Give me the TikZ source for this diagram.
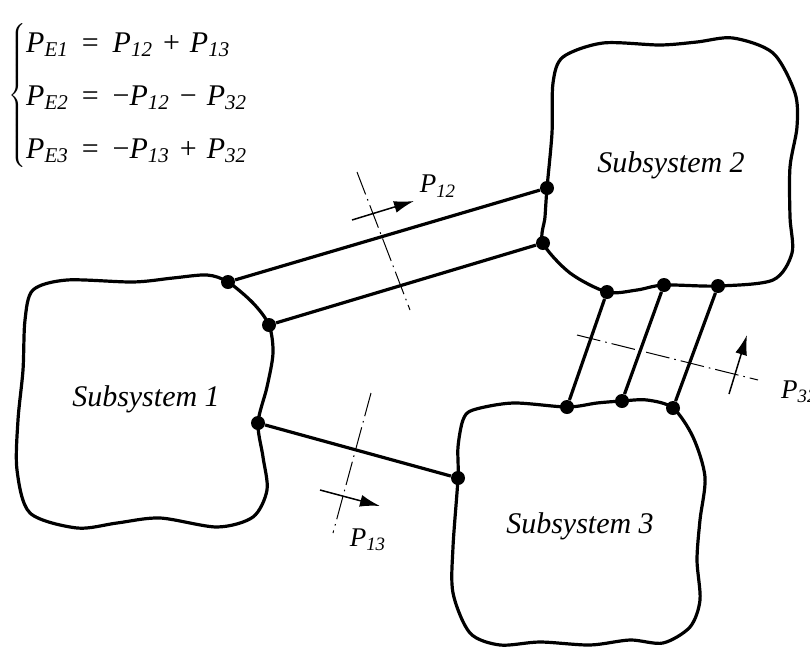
\documentclass[tikz,border=0pt]{standalone}
\usepackage{fontspec}
\setmainfont{Liberation Serif}
\usetikzlibrary{arrows.meta}
\newcommand\pw[1]{\textit{P}\textsubscript{\textit{#1}}}
\tikzset{
  blob/.style    ={line width=1.6pt, line join=round},
  joint/.style   ={circle, fill, inner sep=0pt, minimum size=7pt},
  link/.style    ={line width=1.6pt},
  cut/.style     ={line width=0.5pt, dash pattern=on 12pt off 2.5pt on 0.8pt off 2.5pt},
  flow/.style    ={-{Latex[length=10pt,width=6pt]}, line width=0.75pt},
  subname/.style ={font=\fontsize{15}{18}\selectfont\itshape},
  plabel/.style  ={font=\fontsize{13.5}{15}\selectfont},
}

\begin{document}
\begin{tikzpicture}[x=0.5pt, y=-0.5pt]
  \useasboundingbox (0,0) rectangle (810,649);

  % balance equations
  \node[anchor=west, inner sep=0pt, font=\fontsize{15}{26.5}\selectfont] (eqs) at (8,95)
    {\delimiterfactor=800 \delimitershortfall=12pt
     $\left\{\begin{tabular}{@{}l@{\hspace{6.5pt}}c@{\hspace{7pt}}l@{}}
      \pw{E1} & = & \pw{12}\hspace{5pt}+\hspace{5pt}\pw{13}\\
      \pw{E2} & = & −\pw{12}\hspace{5pt}−\hspace{5pt}\pw{32}\\
      \pw{E3} & = & −\pw{13}\hspace{5pt}+\hspace{5pt}\pw{32}
    \end{tabular}\right.$};

  % joints on the boundaries
  \node[joint] (s1a) at (228,282) {};
  \node[joint] (s1b) at (269,325) {};
  \node[joint] (s1c) at (258,423) {};
  \node[joint] (s2a) at (547,188) {};
  \node[joint] (s2b) at (543,243) {};
  \node[joint] (s2c) at (607,292) {};
  \node[joint] (s2d) at (664,285) {};
  \node[joint] (s2e) at (718,286) {};
  \node[joint] (s3a) at (567,407) {};
  \node[joint] (s3b) at (622,401) {};
  \node[joint] (s3c) at (673,408) {};
  \node[joint] (s3d) at (458,478) {};

  % subsystem outlines
  \draw[blob] plot[smooth cycle] coordinates {(33,290) (67,280) (133,282) (173,278) (207,275)
    (s1a.center) (253,303) (s1b.center) (273,353) (267,387) (s1c.center) (263,457) (267,490)
    (253,517) (217,527) (160,518) (117,523) (77,528) (30,513) (17,470) (18,420) (23,370) (25,320)};
  \draw[blob] plot[smooth cycle] coordinates {(563,57) (603,43) (660,45) (697,42) (733,38)
    (773,53) (795,93) (797,127) (790,167) (790,217) (792,253) (773,280) (s2e.center)
    (s2d.center) (637,290) (s2c.center) (570,273) (s2b.center) (545,217) (s2a.center)
    (552,133) (553,83)};
  \draw[blob] plot[smooth cycle] coordinates {(473,410) (513,403) (s3a.center) (597,403)
    (s3b.center) (647,400) (s3c.center) (693,437) (705,477) (700,520) (697,560) (700,600)
    (690,627) (663,643) (630,640) (590,645) (540,642) (500,645) (470,633) (453,593)
    (453,547) (s3d.center) (458,447) (463,420)};

  \node[subname] (sub1) at (146,399) {Subsystem 1};
  \node[subname] (sub2) at (671,165) {Subsystem 2};
  \node[subname] (sub3) at (580,526) {Subsystem 3};

  % couplings
  \draw[link] (s1a) -- (s2a);
  \draw[link] (s1b) -- (s2b);
  \draw[link] (s1c) -- (s3d);
  \draw[link] (s2c) -- (s3a);
  \draw[link] (s2d) -- (s3b);
  \draw[link] (s2e) -- (s3c);

  % cuts and power flows
  \coordinate (c12a) at (357,172);
  \coordinate (c12b) at (410,310);
  \coordinate (c13a) at (371,393);
  \coordinate (c13b) at (333,533);
  \coordinate (c32a) at (577,335);
  \coordinate (c32b) at (758,380);
  \draw[cut] (c12a) -- (c12b);
  \draw[cut] (c13a) -- (c13b);
  \draw[cut] (c32a) -- (c32b);

  \coordinate (f12a) at (352,220);
  \coordinate (f12b) at (414,201);
  \coordinate (f13a) at (320,490);
  \coordinate (f13b) at (380,506);
  \coordinate (f32a) at (729,394);
  \coordinate (f32b) at (747,335);
  \draw[flow] (f12a) -- (f12b);
  \draw[flow] (f13a) -- (f13b);
  \draw[flow] (f32a) -- (f32b);

  \node[plabel] (p12) at (438,186) {\pw{12}};
  \node[plabel] (p13) at (368,540) {\pw{13}};
  \node[plabel, anchor=west] (p32) at (774,392) {\pw{32}};
\end{tikzpicture}
\end{document}
